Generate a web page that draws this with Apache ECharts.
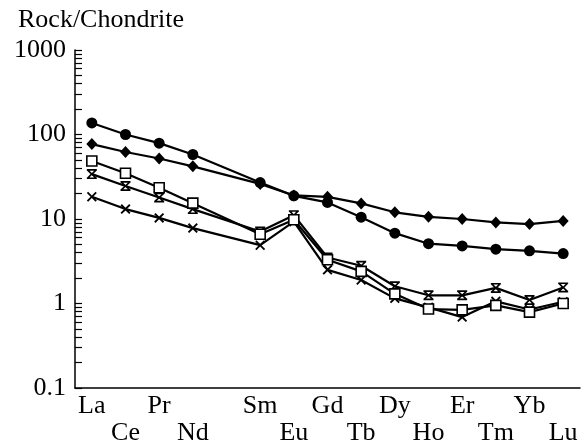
<!DOCTYPE html>
<html>
<head>
<meta charset="utf-8">
<script src="https://cdn.jsdelivr.net/npm/echarts@6.0.0/dist/echarts.min.js"></script>
<style>
  html, body { margin: 0; padding: 0; background: #fff; }
  #chart { width: 586px; height: 447px; }
</style>
</head>
<body>
<div id="chart"></div>
<script>
// REE pattern, normalised to chondrite (Pm has no data, kept as a gap)
const categories = ['La', 'Ce', 'Pr', 'Nd', 'Pm', 'Sm', 'Eu', 'Gd', 'Tb', 'Dy', 'Ho', 'Er', 'Tm', 'Yb', 'Lu']
const lowerRow = ['Ce', 'Nd', 'Eu', 'Tb', 'Ho', 'Tm', 'Lu']
const yLabels = [0.1, 1, 10, 100, 1000]

const circles  = [137, 100, 79, 58, null, 27, 18.8, 15.7, 10.5, 6.8, 5.1, 4.8, 4.4, 4.2, 3.9]
const diamonds = [77, 62, 52, 42, null, 26, 19, 18.3, 15.3, 12, 10.6, 10, 9.1, 8.7, 9.5]
const squares  = [48.5, 34.8, 23.4, 15.4, null, 6.6, 9.8, 3.3, 2.4, 1.3, 0.86, 0.84, 0.95, 0.79, 1.0]
const stars    = [34, 24.6, 18, 13.1, null, 7.1, 11.1, 3.5, 2.8, 1.6, 1.25, 1.25, 1.53, 1.1, 1.55]
const crosses  = [18.3, 13.1, 10.3, 7.8, null, 4.9, 9.3, 2.5, 1.9, 1.15, 0.9, 0.69, 1.06, 0.85, 1.05]

// minor ticks 1..9 in every decade
const yTicks = []
for (let d = 0.1; d < 1000; d *= 10) {
  for (let k = 1; k < 10; k++) yTicks.push(+(d * k).toPrecision(3))
}
yTicks.push(1000)

const FONT = 'Liberation Serif'
const crossPath = 'path://M0,1.3L1.3,0L5,3.7L8.7,0L10,1.3L6.3,5L10,8.7L8.7,10L5,6.3L1.3,10L0,8.7L3.7,5Z'
const starPath = 'path://M0,0L10,0L10,1.7L0,1.7Z M0,8.3L10,8.3L10,10L0,10Z M0.3,1.7L2.7,1.7L5,4L7.3,1.7L9.7,1.7L6.3,5L9.7,8.3L7.3,8.3L5,6L2.7,8.3L0.3,8.3L3.7,5Z'

function line(data, symbol, size, itemStyle) {
  return {
    type: 'line',
    data: data.map(v => v == null ? '-' : v),
    connectNulls: true,
    symbol: symbol,
    symbolSize: size,
    showAllSymbol: true,
    lineStyle: { color: '#000', width: 2.2 },
    itemStyle: itemStyle || { color: '#000' }
  }
}

const chart = echarts.init(document.getElementById('chart'))
chart.setOption({
  animation: false,
  backgroundColor: '#fff',
  title: {
    text: 'Rock/Chondrite',
    left: 13,
    top: 2,
    textStyle: { fontFamily: FONT, fontSize: 26, fontWeight: 'normal', color: '#000' }
  },
  grid: { left: 75, right: 6, top: 50, bottom: 57 },
  xAxis: {
    type: 'category',
    data: categories,
    boundaryGap: true,
    axisLine: { lineStyle: { color: '#000', width: 1.5 } },
    axisTick: { inside: true, length: 6, interval: 0, lineStyle: { color: '#000', width: 1.2 } },
    axisLabel: {
      interval: 0,
      margin: 5,
      color: '#000',
      fontFamily: FONT,
      fontSize: 26,
      lineHeight: 27,
      formatter: v => v === 'Pm' ? '' : (lowerRow.indexOf(v) >= 0 ? '\n' + v : v)
    },
    splitLine: { show: false }
  },
  yAxis: {
    type: 'log',
    logBase: 10,
    min: 0.1,
    max: 1000,
    axisLine: { show: true, lineStyle: { color: '#000', width: 1.5 } },
    axisTick: { show: true, inside: true, length: 7, customValues: yTicks, lineStyle: { color: '#000', width: 1.2 } },
    axisLabel: {
      customValues: yLabels,
      margin: 9,
      color: '#000',
      fontFamily: FONT,
      fontSize: 26,
      formatter: v => String(v)
    },
    splitLine: { show: false }
  },
  series: [
    line(crosses, crossPath, 10),
    line(stars, starPath, 10),
    line(squares, 'rect', 10, { color: '#fff', borderColor: '#000', borderWidth: 1.6 }),
    line(diamonds, 'diamond', [11, 12]),
    line(circles, 'circle', 11)
  ]
})
</script>
</body>
</html>
